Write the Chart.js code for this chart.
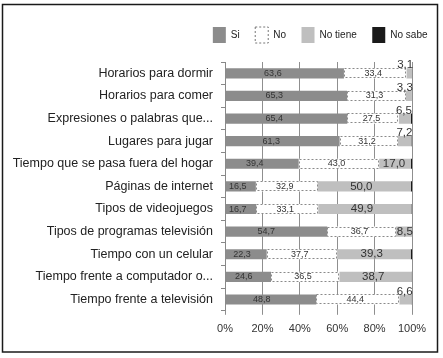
<!DOCTYPE html>
<html><head><meta charset="utf-8">
<script src="https://cdn.jsdelivr.net/npm/chart.js@4.4.1/dist/chart.umd.min.js"></script>
<style>html,body{margin:0;padding:0;background:#fff;} canvas{display:block;}</style>
</head><body>
<canvas id="c" width="443" height="358"></canvas>
<script>
const categories = ['Horarios para dormir','Horarios para comer','Expresiones o palabras que...','Lugares para jugar','Tiempo que se pasa fuera del hogar','Páginas de internet','Tipos de videojuegos','Tipos de programas televisión','Tiempo con un celular','Tiempo frente a computador o...','Tiempo frente a televisión'];
const seriesNames = ['Si','No','No tiene','No sabe'];
const si = [63.6,65.3,65.4,61.3,39.4,16.5,16.7,54.7,22.3,24.6,48.8];
const no = [33.4,31.3,27.5,31.2,43.0,32.9,33.1,36.7,37.7,36.5,44.4];
const noTiene = [3.1,3.3,6.5,7.2,17.0,50.0,49.9,8.5,39.3,38.7,6.6];
const noSabe = [0.0,0.1,0.6,0.3,0.6,0.6,0.3,0.1,0.7,0.2,0.2];
const xTicks = [0,20,40,60,80,100];

const FAM = "'Liberation Sans', Arial, sans-serif";

const framePlugin = {
  id:'frame',
  afterDraw(chart){
    const ctx = chart.ctx;
    ctx.save();
    ctx.strokeStyle = '#1a1a1a';
    ctx.lineWidth = 1.5;
    ctx.strokeRect(2.5, 4.5, 435, 347.5);
    ctx.restore();
  }
};

const segPlugin = {
  id:'segLabels',
  afterDatasetsDraw(chart){
    const ctx = chart.ctx;
    ctx.save();
    // dashed outline for "No"
    const mNo = chart.getDatasetMeta(1);
    ctx.setLineDash([2,2]);
    ctx.strokeStyle = '#8a8a8a';
    ctx.lineWidth = 1;
    mNo.data.forEach(el => {
      const p = el.getProps(['x','y','base','height'], true);
      const l = Math.round(p.base) + 0.5, t = Math.round(p.y - p.height/2) + 0.5;
      ctx.strokeRect(l, t, Math.round(p.x - p.base) - 1, Math.round(p.height) - 1);
    });
    ctx.setLineDash([]);
    const cfg = [
      {frac:0.40, font:'9px ' + FAM},
      {frac:0.47, font:'9px ' + FAM},
      {frac:0.47, font:'11.5px ' + FAM}
    ];
    ctx.fillStyle = '#333';
    ctx.textBaseline = 'middle';
    cfg.forEach((c, di) => {
      const meta = chart.getDatasetMeta(di);
      const vals = chart.data.datasets[di].data;
      ctx.font = c.font;
      meta.data.forEach((el, i) => {
        const v = vals[i];
        const p = el.getProps(['x','y','base'], true);
        const txt = v.toFixed(1).replace('.', ',');
        if (di === 2 && v < 10) {
          ctx.textAlign = 'right';
          ctx.fillText(txt, p.x + 1, v < 8 ? p.y - 8 : p.y);
        } else {
          ctx.textAlign = 'center';
          ctx.fillText(txt, p.base + c.frac * (p.x - p.base), p.y);
        }
      });
    });
    ctx.restore();
  }
};

const colors = ['#8c8c8c', '#ffffff', '#bfbfbf', '#1a1a1a'];
const values = [si, no, noTiene, noSabe];

new Chart(document.getElementById('c'), {
  type: 'bar',
  data: {
    labels: categories,
    datasets: seriesNames.map((n, i) => ({
      label: n,
      data: values[i],
      backgroundColor: colors[i],
      borderWidth: 0,
      barPercentage: 0.45,
      categoryPercentage: 1.0
    }))
  },
  options: {
    indexAxis: 'y',
    responsive: false,
    animation: false,
    devicePixelRatio: 1,
    layout: { padding: { top: 11.5, left: 0, right: 0, bottom: 14 } },
    plugins: {
      tooltip: { enabled: false },
      legend: {
        position: 'top',
        align: 'end',
        labels: {
          boxWidth: 13,
          boxHeight: 16,
          padding: 15.5,
          color: '#222',
          font: { family: FAM, size: 10 },
          generateLabels(chart) {
            const items = Chart.defaults.plugins.legend.labels.generateLabels(chart);
            items.forEach((it, i) => {
              if (i === 1) { it.lineDash = [2,2]; it.strokeStyle = '#777'; it.lineWidth = 1; it.fillStyle = '#fff'; }
              else { it.lineWidth = 0; }
            });
            return items;
          }
        }
      }
    },
    scales: {
      x: {
        type: 'linear',
        stacked: true,
        min: 0, max: 100,
        afterBuildTicks(s) { s.ticks = xTicks.map(v => ({ value: v })); },
        ticks: { color: '#333', font: { family: FAM, size: 11 }, padding: 8, callback: v => v + '%' },
        grid: { color: '#8f8f8f', lineWidth: 1, drawTicks: true, tickLength: 4 },
        border: { display: false }
      },
      y: {
        type: 'category',
        stacked: true,
        afterFit(s) { s.width = 225; },
        ticks: { color: '#222', font: { family: FAM, size: 12.5 }, padding: 8, autoSkip: false },
        grid: { display: true, drawOnChartArea: false, drawTicks: true, tickLength: 4, offset: true, color: '#888' },
        border: { display: true, color: '#888', width: 1 }
      },
      yR: {
        type: 'category', axis: 'y', position: 'right', display: true,
        grid: { display: false }, border: { display: false }, ticks: { display: false },
        afterFit(s) { s.width = 31; }
      },
      xT: {
        type: 'linear', axis: 'x', position: 'top', display: true,
        grid: { display: false }, border: { display: false }, ticks: { display: false },
        afterFit(s) { s.height = 9; }
      }
    }
  },
  plugins: [segPlugin, framePlugin]
});
</script>
</body></html>
